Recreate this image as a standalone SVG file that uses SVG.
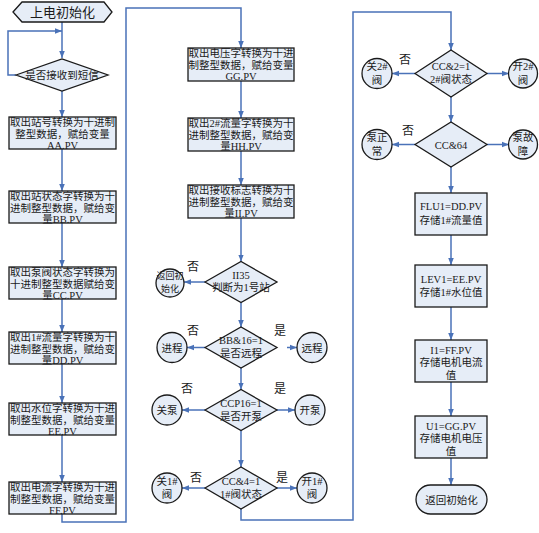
<svg xmlns="http://www.w3.org/2000/svg" width="539" height="533" viewBox="0 0 539 533">
<defs>
<marker id="ah" viewBox="0 0 10 10" refX="10" refY="5" markerWidth="7" markerHeight="7" orient="auto" markerUnits="userSpaceOnUse"><path d="M0,1 L10,5 L0,9 z" fill="#4a72b8"/></marker>
<style>
.shp{fill:#e6edf7;stroke:#1a1a1a;stroke-width:1.3}
.t{font-family:"Liberation Serif","Noto Sans CJK SC",serif;font-size:10.5px;fill:#1a1a1a;text-anchor:middle}
.s{font-size:9px}
.m{font-size:13px}
.lb{font-family:"Liberation Serif","Noto Sans CJK SC",serif;font-size:12px;fill:#1a1a1a;text-anchor:middle}
.c{fill:none;stroke:#4a72b8;stroke-width:1.5}
.a{marker-end:url(#ah)}
</style>
</defs>
<rect width="539" height="533" fill="#ffffff"/>
<g id="connectors">
<path class="c a" d="M62,22 V58"/>
<path class="c a" d="M16,75 H8 V31 H62"/>
<path class="c a" d="M62,91 V117"/>
<path class="c a" d="M62,149 V191"/>
<path class="c a" d="M62,223 V267"/>
<path class="c a" d="M62,299 V332"/>
<path class="c a" d="M62,364 V403"/>
<path class="c a" d="M62,435 V482"/>
<path class="c a" d="M62,514 V522 H126 V8 H241 V48"/>
<path class="c a" d="M241,81 V118"/>
<path class="c a" d="M241,151 V185"/>
<path class="c a" d="M241,218 V261.5"/>
<path class="c a" d="M205,282 H184"/>
<path class="c a" d="M241,302.5 V327"/>
<path class="c a" d="M205,347.5 H187"/>
<path class="c a" d="M287,347.5 H297"/>
<path class="c a" d="M241,368 V389.5"/>
<path class="c a" d="M205,410 H182"/>
<path class="c a" d="M277,410 H295"/>
<path class="c a" d="M241,430.5 V467"/>
<path class="c a" d="M205,488 H182"/>
<path class="c a" d="M277,488 H297"/>
<path class="c a" d="M241,509 V520 H353 V12 H451 V50"/>
<path class="c a" d="M415,73.5 H392"/>
<path class="c a" d="M487,73.5 H509"/>
<path class="c a" d="M451,97 V122"/>
<path class="c a" d="M415,144.5 H392"/>
<path class="c a" d="M487,144.5 H509"/>
<path class="c a" d="M451,167 V193"/>
<path class="c a" d="M451,235 V265"/>
<path class="c a" d="M451,307 V340"/>
<path class="c a" d="M451,382 V416"/>
<path class="c a" d="M451,458 V485"/>
</g>
<g id="labels">
<text class="lb" x="193" y="271">否</text>
<text class="lb" x="193" y="335">否</text>
<text class="lb" x="280" y="335">是</text>
<text class="lb" x="187" y="393">否</text>
<text class="lb" x="280" y="393">是</text>
<text class="lb" x="196" y="482">否</text>
<text class="lb" x="282" y="482">是</text>
<text class="lb" x="405" y="64">否</text>
<text class="lb" x="408" y="135">否</text>
</g>
<g id="start"><polygon class="shp" points="13,12 22,2 104,2 112,12 104,22 22,22"/><text class="t m" x="62.5" y="16.5">上电初始化</text></g>
<g id="d_recv"><polygon class="shp" points="16,75 62,59 108,75 62,91"/><text class="t" x="62" y="79">是否接收到短信</text></g>
<g id="b_aa"><rect class="shp" x="9" y="117" width="107" height="32"/><text class="t" x="62.5" y="126">取出站号转换为十进制</text><text class="t" x="62.5" y="138">整型数据，赋给变量</text><text class="t" x="62.5" y="148.5">AA.PV</text></g>
<g id="b_bb"><rect class="shp" x="9" y="191" width="107" height="32"/><text class="t" x="62.5" y="200">取出站状态字转换为十</text><text class="t" x="62.5" y="212">进制整型数据，赋给变</text><text class="t" x="62.5" y="223">量BB.PV</text></g>
<g id="b_cc"><rect class="shp" x="9" y="267" width="107" height="32"/><text class="t" x="62.5" y="276">取出泵阀状态字转换为</text><text class="t" x="62.5" y="288">十进制整型数据赋给变</text><text class="t" x="62.5" y="299">量CC.PV</text></g>
<g id="b_dd"><rect class="shp" x="9" y="332" width="107" height="32"/><text class="t" x="62.5" y="341">取出1#流量字转换为十</text><text class="t" x="62.5" y="353">进制整型数据，赋给变</text><text class="t" x="62.5" y="364">量DD.PV</text></g>
<g id="b_ee"><rect class="shp" x="9" y="403" width="107" height="32"/><text class="t" x="62.5" y="412">取出水位字转换为十进</text><text class="t" x="62.5" y="424">制整型数据，赋给变量</text><text class="t" x="62.5" y="434.5">EE.PV</text></g>
<g id="b_ff"><rect class="shp" x="9" y="482" width="107" height="32"/><text class="t" x="62.5" y="491">取出电流字转换为十进</text><text class="t" x="62.5" y="503">制整型数据，赋给变量</text><text class="t" x="62.5" y="513.5">FF.PV</text></g>
<g id="b_gg"><rect class="shp" x="188" y="48" width="106" height="33"/><text class="t" x="241" y="57">取出电压字转换为十进</text><text class="t" x="241" y="69">制整型数据，赋给变量</text><text class="t" x="241" y="80">GG.PV</text></g>
<g id="b_hh"><rect class="shp" x="188" y="118" width="106" height="33"/><text class="t" x="241" y="127">取出2#流量字转换为十</text><text class="t" x="241" y="139">进制整型数据，赋给变</text><text class="t" x="241" y="150">量HH.PV</text></g>
<g id="b_ii"><rect class="shp" x="188" y="185" width="106" height="33"/><text class="t" x="241" y="194">取出接收标志转换为十</text><text class="t" x="241" y="206">进制整型数据，赋给变</text><text class="t" x="241" y="217">量II.PV</text></g>
<g id="d_ii"><polygon class="shp" points="205,282 241,261.5 277,282 241,302.5"/><text class="t" x="241" y="279">II35</text><text class="t" x="241" y="291">判断为1号站</text></g>
<g id="c_back"><circle class="shp" cx="170" cy="283" r="14"/><text class="t s" x="170" y="279">返回初</text><text class="t s" x="170" y="292">始化</text></g>
<g id="d_bb"><polygon class="shp" points="205,347.5 241,327 277,347.5 241,368"/><text class="t" x="241" y="344">BB&amp;16=1</text><text class="t" x="241" y="357">是否远程</text></g>
<g id="c_local"><circle class="shp" cx="172" cy="347.5" r="15"/><text class="t" x="172" y="351.5">进程</text></g>
<g id="c_remote"><circle class="shp" cx="312" cy="347.5" r="15"/><text class="t" x="312" y="351.5">远程</text></g>
<g id="d_ccp"><polygon class="shp" points="205,410 241,389.5 277,410 241,430.5"/><text class="t" x="241" y="407">CCP16=1</text><text class="t" x="241" y="420">是否开泵</text></g>
<g id="c_pumpoff"><circle class="shp" cx="167" cy="410" r="15"/><text class="t" x="167" y="414">关泵</text></g>
<g id="c_pumpon"><circle class="shp" cx="310" cy="410" r="15"/><text class="t" x="310" y="414">开泵</text></g>
<g id="d_cc4"><polygon class="shp" points="205,488 241,467 277,488 241,509"/><text class="t" x="241" y="485">CC&amp;4=1</text><text class="t" x="241" y="498">1#阀状态</text></g>
<g id="c_v1off"><circle class="shp" cx="167" cy="488" r="15"/><text class="t" x="167" y="484.5">关1#</text><text class="t" x="167" y="498">阀</text></g>
<g id="c_v1on"><circle class="shp" cx="312" cy="488" r="15"/><text class="t" x="312" y="484.5">开1#</text><text class="t" x="312" y="498">阀</text></g>
<g id="d_cc2"><polygon class="shp" points="415,73.5 451,50 487,73.5 451,97"/><text class="t" x="451" y="69.5">CC&amp;2=1</text><text class="t" x="451" y="83">2#阀状态</text></g>
<g id="c_v2off"><circle class="shp" cx="377" cy="73.5" r="15"/><text class="t" x="377" y="70">关2#</text><text class="t" x="377" y="83.5">阀</text></g>
<g id="c_v2on"><circle class="shp" cx="523" cy="73.5" r="14.5"/><text class="t" x="523" y="70">开2#</text><text class="t" x="523" y="83.5">阀</text></g>
<g id="d_cc64"><polygon class="shp" points="415,144.5 451,122 487,144.5 451,167"/><text class="t" x="451" y="148.5">CC&amp;64</text></g>
<g id="c_pumpok"><circle class="shp" cx="377" cy="144.5" r="15"/><text class="t" x="377" y="141">泵正</text><text class="t" x="377" y="154.5">常</text></g>
<g id="c_pumpfault"><circle class="shp" cx="523" cy="144.5" r="14.5"/><text class="t" x="523" y="141">泵故</text><text class="t" x="523" y="154.5">障</text></g>
<g id="b_flu1"><rect class="shp" x="415" y="193" width="72" height="42"/><text class="t" x="451" y="210">FLU1=DD.PV</text><text class="t" x="451" y="224">存储1#流量值</text></g>
<g id="b_lev1"><rect class="shp" x="415" y="265" width="72" height="42"/><text class="t" x="451" y="283">LEV1=EE.PV</text><text class="t" x="451" y="296">存储1#水位值</text></g>
<g id="b_i1"><rect class="shp" x="415" y="340" width="72" height="42"/><text class="t" x="451" y="354">I1=FF.PV</text><text class="t" x="451" y="366">存储电机电流</text><text class="t" x="451" y="378.5">值</text></g>
<g id="b_u1"><rect class="shp" x="415" y="416" width="72" height="42"/><text class="t" x="451" y="430">U1=GG.PV</text><text class="t" x="451" y="442">存储电机电压</text><text class="t" x="451" y="454.5">值</text></g>
<g id="end"><rect class="shp" x="416" y="485" width="71" height="29" rx="14.5"/><text class="t" x="451.5" y="503.5">返回初始化</text></g>
</svg>
